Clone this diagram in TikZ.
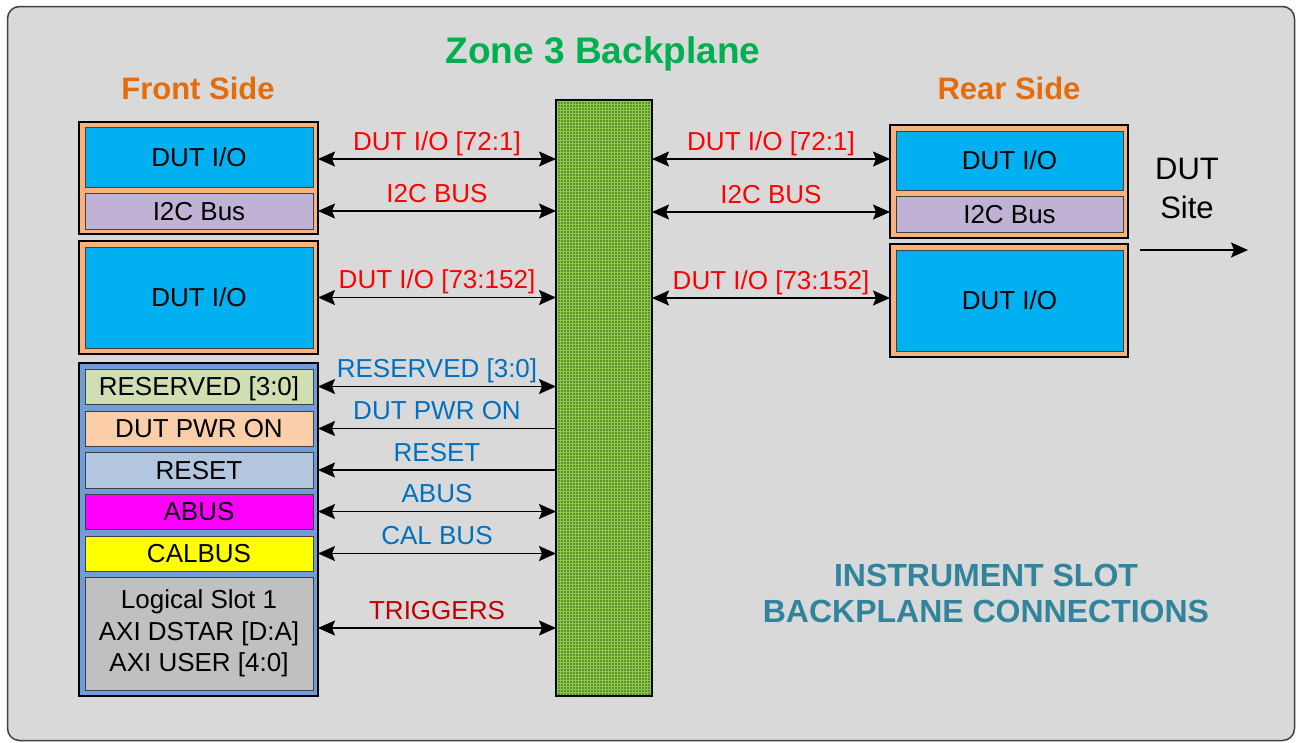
\documentclass[tikz,border=0pt]{standalone}
\usepackage{fontspec}
\setmainfont{Liberation Sans}
\usetikzlibrary{arrows.meta,calc,patterns.meta}
\definecolor{bgC}{HTML}{D9D9D9}
\definecolor{frameC}{HTML}{404040}
\definecolor{orangeC}{HTML}{F8B27A}
\definecolor{dutC}{HTML}{00B0F0}
\definecolor{i2cC}{HTML}{C0B2D4}
\definecolor{blueC}{HTML}{6F9DD9}
\definecolor{resC}{HTML}{D0DFB1}
\definecolor{pwrC}{HTML}{FBCEAA}
\definecolor{rstC}{HTML}{B3C6E0}
\definecolor{abusC}{HTML}{FF00FF}
\definecolor{calC}{HTML}{FFFF00}
\definecolor{logC}{HTML}{C0C0C0}
\definecolor{bpG}{HTML}{8CCB4A}
\definecolor{bpD}{HTML}{24400E}
\definecolor{titleG}{HTML}{00B050}
\definecolor{orangeT}{HTML}{E46C0A}
\definecolor{redT}{HTML}{FF0000}
\definecolor{blueT}{HTML}{0070C0}
\definecolor{trigT}{HTML}{C00000}
\definecolor{tealT}{HTML}{31849B}
\tikzdeclarepattern{
  name=bpdots,
  type=uncolored,
  bounding box={(0pt,0pt) and (3pt,3pt)},
  tile size={(3pt,3pt)},
  code={\pgfpathrectangle{\pgfpoint{0.6pt}{0.6pt}}{\pgfpoint{1.6pt}{1.6pt}}\pgfusepath{fill}}
}
\begin{document}
\begin{tikzpicture}[x=1pt,y=-1pt,
  outerbox/.style={draw=black, line width=2pt, inner sep=0pt, outer sep=0pt},
  inbox/.style={draw=black!75, line width=0.8pt, inner sep=0pt, outer sep=0pt,
    font=\fontsize{26}{30}\selectfont, text height=18.6pt, text depth=0pt},
  multibox/.style={draw=black!75, line width=0.8pt, inner sep=0pt, outer sep=0pt,
    font=\fontsize{26}{31.5}\selectfont, align=center},
  lbl/.style={midway, anchor=base, yshift=9pt, inner sep=0pt, font=\fontsize{26}{30}\selectfont},
  bus/.style={line width=1.6pt, {Stealth[length=17pt,width=15pt,inset=3pt]}-{Stealth[length=17pt,width=15pt,inset=3pt]}},
  onew/.style={line width=1.6pt, -{Stealth[length=17pt,width=15pt,inset=3pt]}},
  bigtxt/.style={anchor=base, inner sep=0pt, font=\bfseries\fontsize{31}{36}\selectfont}
]
\useasboundingbox (0,0) rectangle (1297,742);
\draw[draw=frameC, line width=1.5pt, fill=bgC, rounded corners=12pt] (7.5,6.5) rectangle (1294.5,740.5);

% titles
\node[anchor=base, inner sep=0pt, font=\bfseries\fontsize{37}{40}\selectfont, text=titleG] (title) at (603,63) {Zone 3 Backplane};
\node[bigtxt, text=orangeT] (front) at (198,99) {Front Side};
\node[bigtxt, text=orangeT] (rear) at (1009,99) {Rear Side};

% front side
\node[outerbox, fill=orangeC, minimum width=239pt, minimum height=112pt] (fo1) at (198.5,178) {};
\node[inbox, fill=dutC, minimum width=228pt, minimum height=60pt] (fdut1) at (199,157) {DUT I/O};
\node[inbox, fill=i2cC, minimum width=228pt, minimum height=36pt] (fi2c) at (199,211) {I2C Bus};
\node[outerbox, fill=orangeC, minimum width=239pt, minimum height=113pt] (fo2) at (198.5,297) {};
\node[inbox, fill=dutC, minimum width=228pt, minimum height=101pt] (fdut2) at (199,297.5) {DUT I/O};
\node[outerbox, fill=blueC, minimum width=239pt, minimum height=333pt] (fo3) at (198.5,529.5) {};
\node[inbox, fill=resC, minimum width=228pt, minimum height=35pt] (res) at (199,386.5) {RESERVED [3:0]};
\node[inbox, fill=pwrC, minimum width=228pt, minimum height=35pt] (pwr) at (199,428.5) {DUT PWR ON};
\node[inbox, fill=rstC, minimum width=228pt, minimum height=36pt] (rst) at (199,470) {RESET};
\node[inbox, fill=abusC, minimum width=228pt, minimum height=35pt] (abus) at (199,511.5) {ABUS};
\node[inbox, fill=calC, minimum width=228pt, minimum height=35pt] (cal) at (199,553.5) {CALBUS};
\node[multibox, fill=logC, minimum width=228pt, minimum height=113pt] (logic) at (199,633.5) {Logical Slot 1\\AXI DSTAR [D:A]\\AXI USER [4:0]};

% rear side
\node[outerbox, fill=orangeC, minimum width=238pt, minimum height=113pt] (ro1) at (1009,181.5) {};
\node[inbox, fill=dutC, minimum width=227pt, minimum height=59pt] (rdut1) at (1009.5,160.5) {DUT I/O};
\node[inbox, fill=i2cC, minimum width=227pt, minimum height=36pt] (ri2c) at (1009.5,214) {I2C Bus};
\node[outerbox, fill=orangeC, minimum width=238pt, minimum height=113pt] (ro2) at (1009,300.5) {};
\node[inbox, fill=dutC, minimum width=227pt, minimum height=101pt] (rdut2) at (1009.5,300.5) {DUT I/O};

% backplane
\node[draw=black, line width=1.2pt, fill=bpG, postaction={pattern=bpdots, pattern color=bpD},
  minimum width=96pt, minimum height=596pt, inner sep=0pt, outer sep=0pt] (bp) at (604,398) {};

% left connections
\draw[bus] ($(fo1.east |- fdut1)+(0,2)$) -- ($(bp.west |- fdut1)+(0,2)$) node[lbl, text=redT] {DUT I/O [72:1]};
\draw[bus] (fo1.east |- fi2c) -- (bp.west |- fi2c) node[lbl, text=redT] {I2C BUS};
\draw[bus] (fo2.east |- fdut2) -- (bp.west |- fdut2) node[lbl, text=redT] {DUT I/O [73:152]};
\draw[bus] (fo3.east |- res) -- (bp.west |- res) node[lbl, text=blueT] {RESERVED [3:0]};
\draw[onew] (bp.west |- pwr) -- (fo3.east |- pwr) node[lbl, text=blueT] {DUT PWR ON};
\draw[onew] (bp.west |- rst) -- (fo3.east |- rst) node[lbl, text=blueT] {RESET};
\draw[bus] (fo3.east |- abus) -- (bp.west |- abus) node[lbl, text=blueT] {ABUS};
\draw[bus] (fo3.east |- cal) -- (bp.west |- cal) node[lbl, text=blueT] {CAL BUS};
\draw[bus] ($(fo3.east |- logic)+(0,-5.5)$) -- ($(bp.west |- logic)+(0,-5.5)$) node[lbl, text=trigT] {TRIGGERS};

% right connections
\draw[bus] ($(bp.east |- rdut1)+(0,-1.5)$) -- ($(ro1.west |- rdut1)+(0,-1.5)$) node[lbl, text=redT] {DUT I/O [72:1]};
\draw[bus] ($(bp.east |- ri2c)+(0,-2)$) -- ($(ro1.west |- ri2c)+(0,-2)$) node[lbl, text=redT] {I2C BUS};
\draw[bus] ($(bp.east |- rdut2)+(0,-2.5)$) -- ($(ro2.west |- rdut2)+(0,-2.5)$) node[lbl, text=redT] {DUT I/O [73:152]};

% DUT site
\node[anchor=base, inner sep=0pt, font=\fontsize{31}{36}\selectfont] (dut) at (1187,179) {DUT};
\node[anchor=base, inner sep=0pt, font=\fontsize{31}{36}\selectfont] (site) at (1187,218) {Site};
\coordinate (ds1) at (1140,250);
\coordinate (ds2) at (1248,250);
\draw[onew] (ds1) -- (ds2);

% caption
\node[bigtxt, text=tealT, font=\bfseries\fontsize{32}{36}\selectfont] (cap1) at (986,586.5) {INSTRUMENT SLOT};
\node[bigtxt, text=tealT, font=\bfseries\fontsize{32}{36}\selectfont] (cap2) at (986,622.5) {BACKPLANE CONNECTIONS};
\end{tikzpicture}
\end{document}
